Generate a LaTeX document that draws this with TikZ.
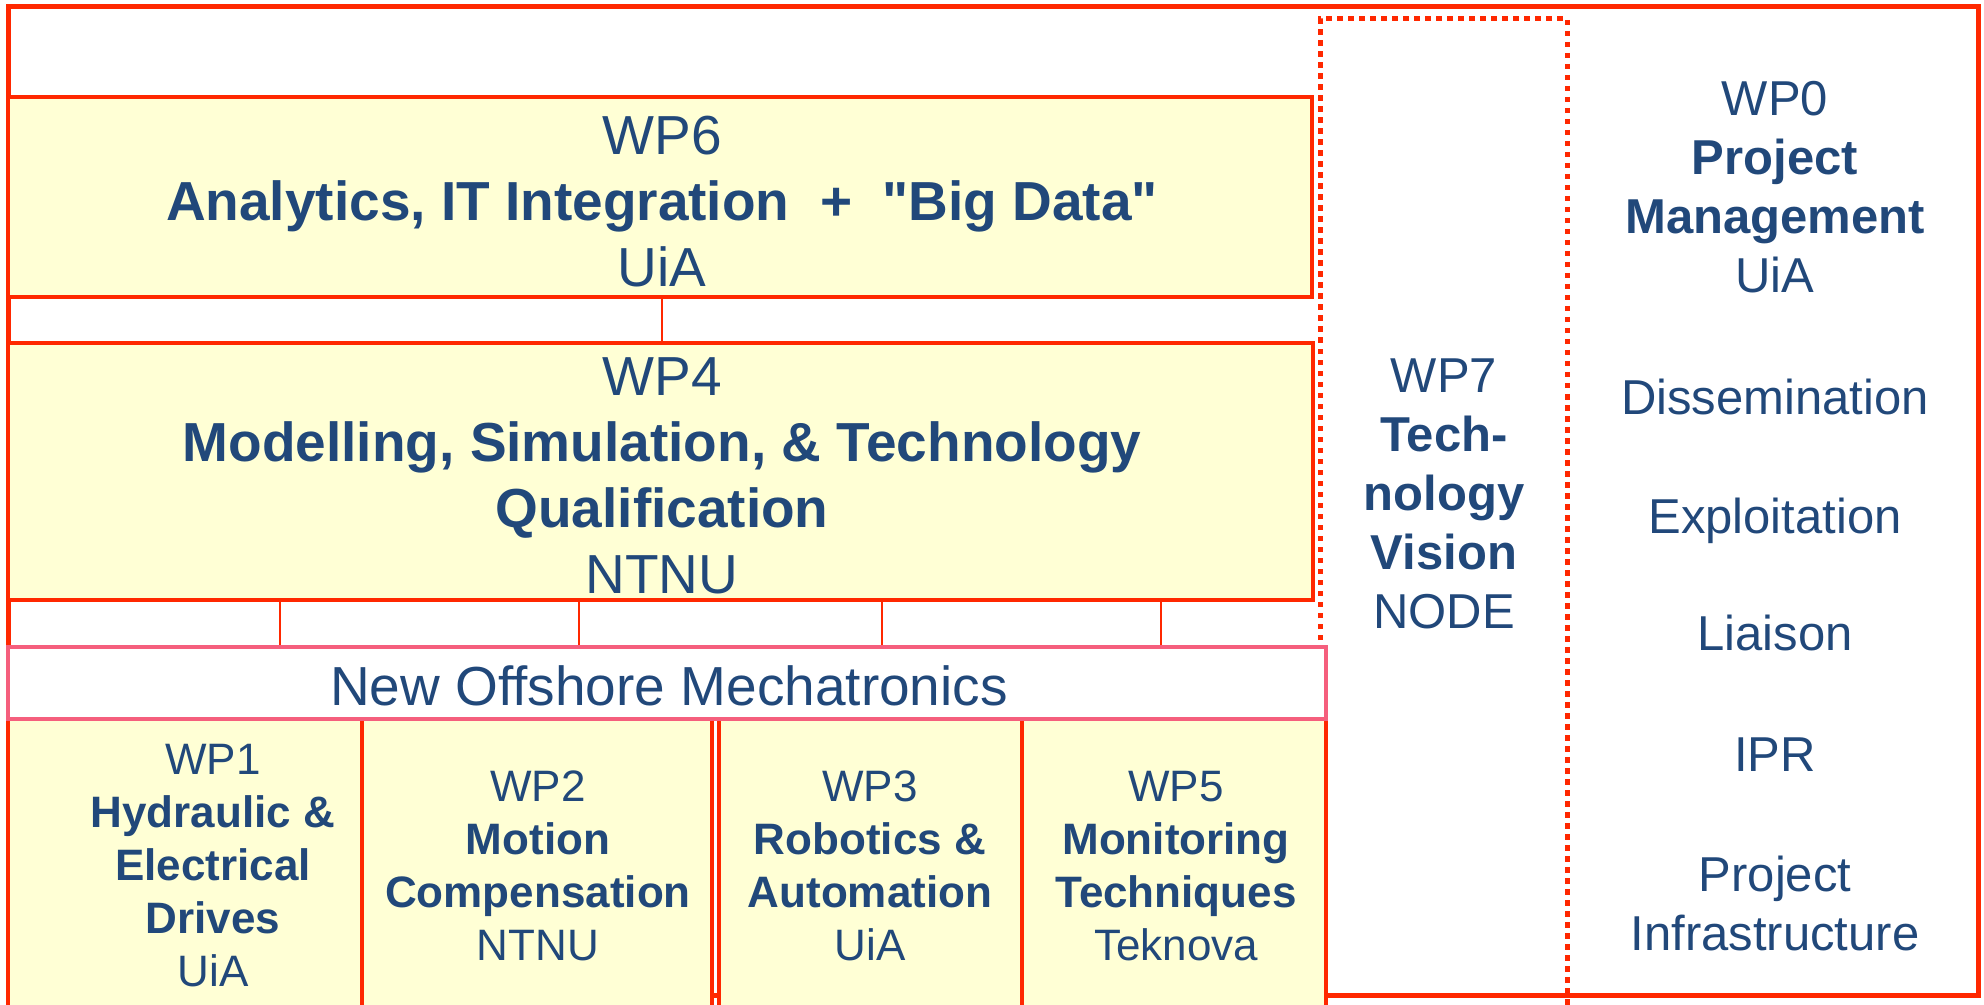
\documentclass[tikz,border=0pt]{standalone}
\usepackage{fontspec}
\setmainfont{Liberation Sans}
\newcommand\straightq{{\XeTeXglyph\XeTeXglyphindex "quotedbl"\relax}}
\definecolor{bordred}{RGB}{255,40,0}
\definecolor{wpfill}{RGB}{255,255,213}
\definecolor{txtblue}{RGB}{33,72,122}
\definecolor{pinkb}{RGB}{245,95,125}
\tikzset{
  wpbox/.style={draw=bordred, fill=wpfill, line width=2.4pt, rectangle, inner sep=0pt},
  nombox/.style={draw=pinkb, fill=white, line width=2.4pt, rectangle, inner sep=0pt},
  conn/.style={draw=bordred, line width=0.8pt},
  outerbox/.style={draw=bordred, line width=2.5pt},
  dotbox/.style={draw=bordred, line width=2.5pt, dash pattern=on 2.75pt off 2.75pt},
  bigtxt/.style={font=\fontsize{27.5}{33}\selectfont, align=center, text=txtblue, inner sep=0pt},
  midtxt/.style={font=\fontsize{24.5}{29.5}\selectfont, align=center, text=txtblue, inner sep=0pt},
  smalltxt/.style={font=\fontsize{22}{26.5}\selectfont, align=center, text=txtblue, inner sep=0pt}
}
\begin{document}
\begin{tikzpicture}[x=0.5pt,y=-0.5pt]
\useasboundingbox (0,0) rectangle (1984,1005);
\clip (0,0) rectangle (1984,1005);
% outer frame
\draw[outerbox] (8,7) rectangle (1978,995);
% WP7 dotted frame
\draw[dotbox] (1320,640) -- (1320,19) -- (1567,19) -- (1567,1012);
% upper boxes
\node[wpbox, minimum width=1304*0.5pt, minimum height=200*0.5pt] (wp6) at (660,197) {};
\node[wpbox, minimum width=1305*0.5pt, minimum height=257*0.5pt] (wp4) at (660.5,471.5) {};
% bottom boxes
\node[wpbox, minimum width=354*0.5pt, minimum height=301*0.5pt] (wp1) at (185,869.5) {};
\node[wpbox, minimum width=350*0.5pt, minimum height=301*0.5pt] (wp2) at (537,869.5) {};
\node[wpbox, minimum width=303*0.5pt, minimum height=301*0.5pt] (wp3) at (870.5,869.5) {};
\node[wpbox, minimum width=304*0.5pt, minimum height=301*0.5pt] (wp5) at (1174,869.5) {};
% New Offshore Mechatronics
\node[nombox, minimum width=1318*0.5pt, minimum height=72*0.5pt] (nom) at (667,683) {};
% connectors
\coordinate (k0) at (662,0);
\coordinate (k1) at (280,0);
\coordinate (k2) at (579,0);
\coordinate (k3) at (882,0);
\coordinate (k4) at (1161,0);
\draw[conn] (wp6.south -| k0) -- (wp4.north -| k0);
\draw[conn] (wp4.south -| k1) -- (nom.north -| k1);
\draw[conn] (wp4.south -| k2) -- (nom.north -| k2);
\draw[conn] (wp4.south -| k3) -- (nom.north -| k3);
\draw[conn] (wp4.south -| k4) -- (nom.north -| k4);
% texts
\node[bigtxt] (t6) at (662,202) {WP6\\\textbf{Analytics, IT Integration\ \ +\ \ \straightq Big Data\straightq}\\UiA};
\node[bigtxt] (t4) at (662,476) {WP4\\\textbf{Modelling, Simulation, \& Technology}\\\textbf{Qualification}\\NTNU};
\node[bigtxt] (tn) at (669,686) {New Offshore Mechatronics};
\node[midtxt] (t7) at (1444,494) {WP7\\\textbf{Tech-}\\\textbf{nology}\\\textbf{Vision}\\NODE};
\node[midtxt] (t0) at (1775,187) {WP0\\\textbf{Project}\\\textbf{Management}\\UiA};
\node[midtxt] (td) at (1775,397) {Dissemination};
\node[midtxt] (te) at (1775,521) {Exploitation};
\node[midtxt] (tl) at (1775,633) {Liaison};
\node[midtxt] (ti) at (1775,755) {IPR};
\node[midtxt] (tp) at (1775,903) {Project\\Infrastructure};
\node[smalltxt] (t1) at (213,866) {WP1\\\textbf{Hydraulic \&}\\\textbf{Electrical}\\\textbf{Drives}\\UiA};
\node[smalltxt] (t2) at (538,866) {WP2\\\textbf{Motion}\\\textbf{Compensation}\\NTNU};
\node[smalltxt] (t3) at (870,866) {WP3\\\textbf{Robotics \&}\\\textbf{Automation}\\UiA};
\node[smalltxt] (t5) at (1176,866) {WP5\\\textbf{Monitoring}\\\textbf{Techniques}\\Teknova};
\end{tikzpicture}
\end{document}
